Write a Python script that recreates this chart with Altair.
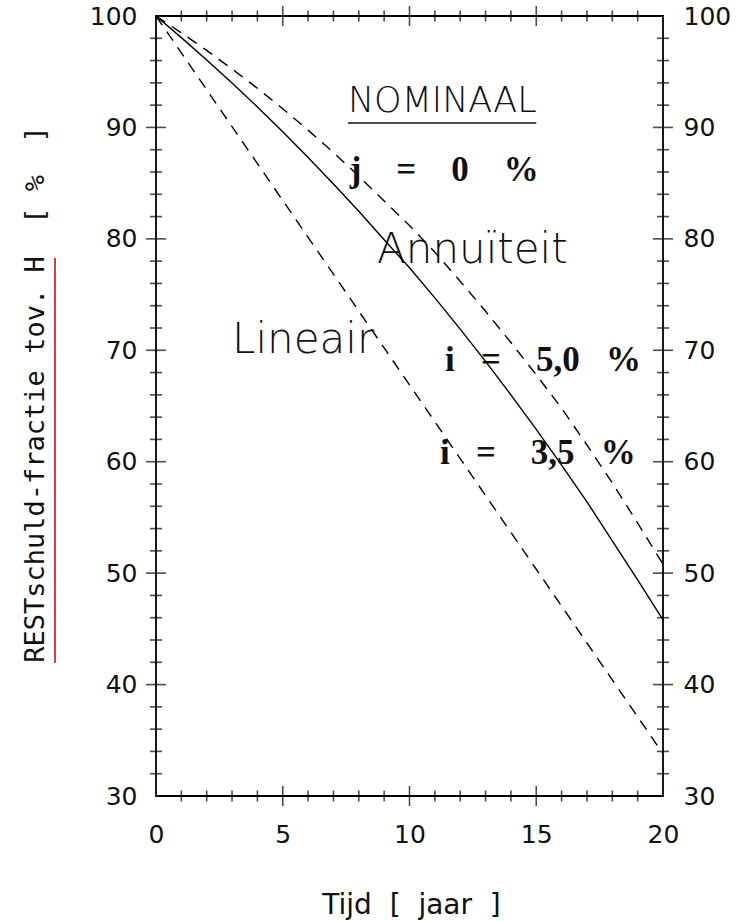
import altair as alt
import pandas as pd

# ---- data ----
years = [0, 1, 2, 3, 4, 5, 6, 7, 8, 9, 10, 11, 12, 13, 14, 15, 16, 17, 18, 19, 20]
lineair = [100.0, 96.69, 93.38, 90.07, 86.76, 83.45, 80.14, 76.83, 73.52, 70.21, 66.9,
           63.59, 60.28, 56.97, 53.66, 50.35, 47.04, 43.73, 40.42, 37.11, 33.8]
annuiteit_35 = [100.0, 98.06, 96.06, 93.98, 91.84, 89.61, 87.31, 84.93, 82.47, 79.92, 77.4,
                74.7, 71.9, 69.0, 66.0, 62.9, 59.7, 56.4, 52.9, 49.4, 45.8]
annuiteit_50 = [100.0, 98.49, 96.91, 95.25, 93.51, 91.68, 89.76, 87.75, 85.63, 83.4, 81.2,
                78.8, 76.2, 73.5, 70.7, 67.8, 64.8, 61.5, 58.1, 54.5, 50.8]

y_labels = [30, 40, 50, 60, 70, 80, 90, 100]
x_labels = [0, 5, 10, 15, 20]
y_major = [40, 50, 60, 70, 80, 90]
y_minor = [32, 34, 36, 38, 42, 44, 46, 48, 52, 54, 56, 58, 62, 64, 66, 68,
           72, 74, 76, 78, 82, 84, 86, 88, 92, 94, 96, 98]
x_major = [5, 10, 15]
x_minor = [1, 2, 3, 4, 6, 7, 8, 9, 11, 12, 13, 14, 16, 17, 18, 19]

sans_text = ["NOMINAAL", "Annuïteit", "Lineair"]
sans_x = [7.57, 8.72, 3.0]
sans_y = [91.38, 77.83, 69.76]
sans_size = [35, 42, 42]

NB = "\u00a0"
serif_text = ["j" + NB * 4 + "=" + NB * 4 + "0" + NB * 4 + "%",
              "i" + NB * 3 + "=" + NB * 4 + "5,0" + NB * 3 + "%",
              "i" + NB * 3 + "=" + NB * 4 + "3,5" + NB * 3 + "%"]
serif_x = [7.64, 11.4, 11.2]
serif_y = [86.2, 69.1, 60.8]

underline_x = [7.57]
underline_x2 = [15.0]
underline_y = [90.4]

FONT = "DejaVu Sans"
xs = alt.Scale(domain=[0, 20], nice=False, zero=False)
ys = alt.Scale(domain=[30, 100], nice=False, zero=False)

curves = pd.DataFrame({"t": years, "lin": lineair, "a35": annuiteit_35, "a50": annuiteit_50})

y_title = "RESTschuld-fractie" + NB + "tov." + NB + "H" + NB * 2 + "[" + NB + "%" + NB * 2 + "]"

left_axis = alt.Axis(orient="left", values=y_labels, ticks=False, tickSize=0, domain=False, grid=False,
                     labelFont=FONT, labelFontSize=25, labelColor="#111", labelPadding=19, labelFlush=False,
                     title=y_title,
                     titleFont="DejaVu Sans Mono", titleFontSize=27, titleFontWeight="normal", titleColor="#111",
                     titleAngle=270, titleX=-113, titleY=378, titleAlign="center", titleBaseline="alphabetic")
bottom_axis = alt.Axis(orient="bottom", values=x_labels, ticks=False, tickSize=0, domain=False, grid=False,
                       labelFont=FONT, labelFontSize=25, labelColor="#111", labelPadding=26, labelFlush=False,
                       title="Tijd" + NB * 2 + "[" + NB * 2 + "jaar" + NB * 2 + "]",
                       titleFont=FONT, titleFontSize=28, titleFontWeight="normal", titleColor="#111",
                       titleX=255, titleY=117, titleAlign="center", titleBaseline="alphabetic")
right_axis = alt.Axis(orient="right", values=y_labels, ticks=False, tickSize=0, domain=False, grid=False,
                      labelFont=FONT, labelFontSize=25, labelColor="#111", labelPadding=20, labelFlush=False,
                      title=None)

base = alt.Chart(curves)
solid = base.mark_line(color="black", strokeWidth=1.4).encode(
    x=alt.X("t:Q", scale=xs, axis=bottom_axis),
    y=alt.Y("a35:Q", scale=ys, axis=left_axis),
)
dash_lin = base.mark_line(color="black", strokeWidth=1.4, strokeDash=[11, 8]).encode(
    x=alt.X("t:Q", scale=xs, axis=None),
    y=alt.Y("lin:Q", scale=ys, axis=None),
)
dash_50 = base.mark_line(color="black", strokeWidth=1.4, strokeDash=[11, 8]).encode(
    x=alt.X("t:Q", scale=xs, axis=None),
    y=alt.Y("a50:Q", scale=ys, axis=None),
)


def yticks(vals, size, axis=None):
    df = pd.DataFrame([(s, v) for s in (0, 20) for v in vals], columns=["t", "v"])
    return alt.Chart(df).mark_tick(orient="horizontal", size=size, thickness=1.6, color="black").encode(
        x=alt.X("t:Q", scale=xs, axis=None), y=alt.Y("v:Q", scale=ys, axis=axis))


def xticks(vals, size):
    df = pd.DataFrame([(t, s) for s in (30, 100) for t in vals], columns=["t", "v"])
    return alt.Chart(df).mark_tick(orient="vertical", size=size, thickness=1.6, color="black").encode(
        x=alt.X("t:Q", scale=xs, axis=None), y=alt.Y("v:Q", scale=ys, axis=None))


ylab_df = pd.DataFrame({"t": [20] * len(y_labels), "v": y_labels})
right_labels = alt.Chart(ylab_df).mark_point(opacity=0).encode(
    x=alt.X("t:Q", scale=xs, axis=None), y=alt.Y("v:Q", scale=ys, axis=right_axis))

sans_df = pd.DataFrame({"t": sans_x, "v": sans_y, "txt": sans_text, "fs": sans_size})
sans = alt.Chart(sans_df).mark_text(font=FONT, fontWeight=200, color="#111", align="left",
                                    baseline="alphabetic").encode(
    x=alt.X("t:Q", scale=xs, axis=None), y=alt.Y("v:Q", scale=ys, axis=None),
    text="txt:N", size=alt.Size("fs:Q", scale=None, legend=None))

serif_df = pd.DataFrame({"t": serif_x, "v": serif_y, "txt": serif_text})
serif = alt.Chart(serif_df).mark_text(font="Liberation Serif", fontWeight="bold", fontSize=35, color="#111",
                                      align="left", baseline="middle").encode(
    x=alt.X("t:Q", scale=xs, axis=None), y=alt.Y("v:Q", scale=ys, axis=None), text="txt:N")

ul_df = pd.DataFrame({"t": underline_x, "t2": underline_x2, "v": underline_y})
underline = alt.Chart(ul_df).mark_rule(color="#111", strokeWidth=1.6).encode(
    x=alt.X("t:Q", scale=xs, axis=None), x2="t2:Q", y=alt.Y("v:Q", scale=ys, axis=None))

red = alt.Chart(ul_df).mark_rule(color="#d2404e", strokeWidth=2).encode(
    x=alt.value(-101), y=alt.value(242), y2=alt.value(647))

chart = alt.layer(
    solid, dash_lin, dash_50,
    yticks(y_minor, 12), yticks(y_major, 20), xticks(x_minor, 11), xticks(x_major, 20),
    right_labels, underline, sans, serif, red,
).resolve_axis(y="independent", x="independent").properties(
    width=507, height=780,
    autosize=alt.AutoSizeParams(type="none"),
    padding={"left": 156, "top": 16, "right": 82, "bottom": 125},
    background="white",
).configure_view(stroke="black", strokeWidth=1.8)

chart.save("out.html", embed_options={"renderer": "svg", "actions": False})
